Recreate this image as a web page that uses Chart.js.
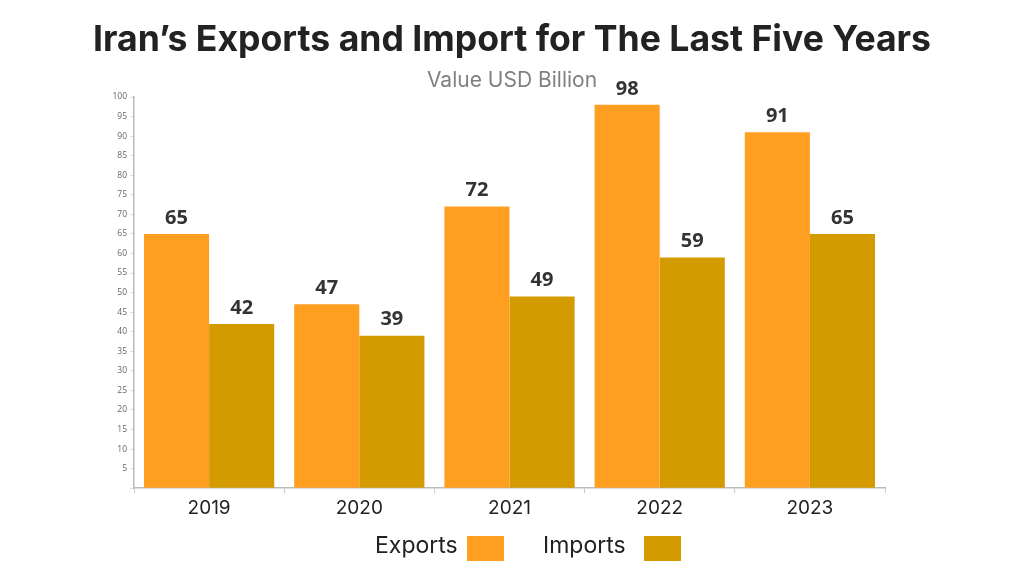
<!DOCTYPE html>
<html>
<head>
<meta charset="utf-8">
<script src="https://cdn.jsdelivr.net/npm/chart.js@4.4.1/dist/chart.umd.min.js"></script>
<style>
  html, body { margin: 0; padding: 0; background: #fff; }
  #wrap { width: 1024px; height: 577px; position: relative; }
</style>
</head>
<body>
<div id="wrap"><canvas id="chart" width="1024" height="577"></canvas></div>
<script>
// chart data
const years = ["2019", "2020", "2021", "2022", "2023"];
const exportsData = [65, 47, 72, 98, 91];
const importsData = [42, 39, 49, 59, 65];
const seriesNames = ["Exports", "Imports"];
const titleText = "Iran\u2019s Exports and Import for The Last Five Years";
const subtitleText = "Value USD Billion";

const exportColor = "#FF9F22";
const importColor = "#D39B00";

// title + subtitle drawn across the full canvas width
const headings = {
    id: "headings",
    afterDraw(chart) {
        const ctx = chart.ctx;
        ctx.save();
        ctx.textAlign = "center";
        ctx.textBaseline = "middle";
        ctx.fillStyle = "#222";
        ctx.font = "bold 35.6px Inter";
        ctx.fillText(titleText, 512, 40);
        ctx.fillStyle = "#808080";
        ctx.font = "21px Inter";
        ctx.fillText(subtitleText, 512, 81);
        ctx.restore();
    }
};

// numbers above bars
const valueLabels = {
    id: "valueLabels",
    afterDatasetsDraw(chart) {
        const ctx = chart.ctx;
        ctx.save();
        ctx.font = "bold 20px 'Open Sans'";
        ctx.fillStyle = "#333";
        ctx.textAlign = "center";
        ctx.textBaseline = "bottom";
        chart.data.datasets.forEach((ds, i) => {
            chart.getDatasetMeta(i).data.forEach((bar, j) => {
                ctx.fillText(ds.data[j], bar.x, bar.y - 6);
            });
        });
        ctx.restore();
    }
};

// legend at the bottom: label text then colour box
const bottomLegend = {
    id: "bottomLegend",
    afterDraw(chart) {
        const ctx = chart.ctx;
        ctx.save();
        ctx.font = "23px Inter";
        ctx.textBaseline = "middle";
        const textX = [375, 543];
        const boxX = [467, 644];
        chart.data.datasets.forEach((ds, i) => {
            ctx.fillStyle = "#222";
            ctx.fillText(ds.label, textX[i], 546);
            ctx.fillStyle = ds.backgroundColor;
            ctx.fillRect(boxX[i], 536, 37, 25);
        });
        ctx.restore();
    }
};

new Chart(document.getElementById("chart"), {
    type: "bar",
    data: {
        labels: years,
        datasets: [
            { label: seriesNames[0], data: exportsData, backgroundColor: exportColor },
            { label: seriesNames[1], data: importsData, backgroundColor: importColor }
        ]
    },
    options: {
        responsive: false,
        animation: false,
        layout: { padding: { top: 97, left: 100, right: 139, bottom: 53 } },
        datasets: { bar: { categoryPercentage: 0.867, barPercentage: 1 } },
        plugins: {
            legend: { display: false },
            tooltip: { enabled: false }
        },
        scales: {
            x: {
                border: { color: "#bbb", width: 1.5 },
                grid: { drawOnChartArea: false, tickLength: 5, color: "#ccc", offset: true },
                ticks: { color: "#222", font: { family: "Inter", size: 19 }, padding: 4 }
            },
            y: {
                min: 0,
                max: 100,
                border: { color: "#bbb", width: 1.5 },
                grid: { drawOnChartArea: false, tickLength: 4, color: "#ddd" },
                ticks: {
                    stepSize: 5,
                    color: "#666",
                    font: { family: "Open Sans", size: 8.5 },
                    padding: 3,
                    callback: v => v === 0 ? "" : v
                },
                afterFit(scale) { scale.width = 34; }
            }
        }
    },
    plugins: [headings, valueLabels, bottomLegend]
});
</script>
</body>
</html>
